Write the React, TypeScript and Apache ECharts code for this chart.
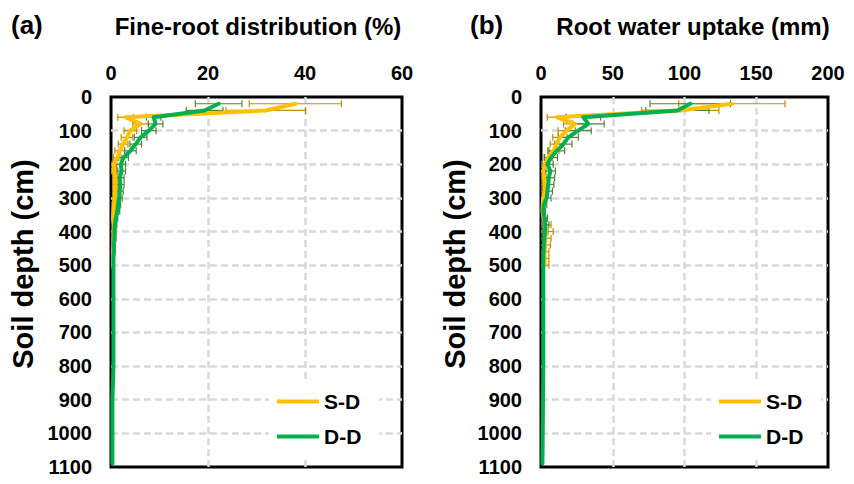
import React, { useEffect, useRef } from "react";
import * as echarts from "echarts";

// Depths (cm)
const depthsSD = [20, 40, 60, 80, 100, 120, 140, 160, 180, 200, 220, 240, 260, 280, 300, 320, 340, 360, 380, 400, 420, 440, 460, 480, 500];
const depthsDD = [20, 40, 60, 80, 100, 120, 140, 160, 180, 200, 220, 240, 260, 280, 300, 320, 340, 360, 380, 400, 420, 440, 460, 480, 500, 600, 700, 800, 900, 1000, 1090];

// (a) Fine-root distribution (%)
const rootSD = [38.0, 31.9, 3.0, 6.1, 4.0, 3.3, 2.5, 1.8, 1.3, 0.6, 0.6, 0.9, 0.9, 0.9, 0.8, 0.6, 0.5, 0.4, 0.6, 0.6, 0.5, 0.5, 0.4, 0.4, 0.4];
const rootSDErr = [9.5, 8.2, 1.6, 1.6, 1.3, 1.2, 1.0, 1.0, 0.8, 0.6, 0.5, 0.5, 0.5, 0.5, 0.4, 0.4, 0.3, 0.3, 0.4, 0.4, 0.3, 0.3, 0.3, 0.3, 0.3];
const rootDD = [22.2, 19.3, 8.8, 9.2, 7.8, 6.1, 5.1, 4.0, 2.6, 2.0, 2.2, 1.8, 1.9, 1.8, 1.7, 1.5, 1.3, 1.0, 0.8, 0.7, 0.7, 0.6, 0.6, 0.5, 0.5, 0.5, 0.5, 0.5, 0.3, 0.3, 0.3];
const rootDDErr = [4.8, 3.8, 1.5, 1.5, 1.5, 1.3, 1.2, 1.2, 1.0, 1.0, 0.8, 0.9, 0.8, 0.7, 0.6, 0.5, 0.5, 0.4, 0.4, 0.3, 0.3, 0.3, 0.2, 0.2, 0.2];

// (b) Root water uptake (mm)
const uptakeSD = [133, 97, 10.9, 23.7, 17.9, 13.2, 10.9, 8.6, 5.1, 2.8, 1.5, 2.0, 2.5, 2.5, 1.5, 1.2, 1.0, 2.0, 3.0, 3.5, 3.0, 3.0, 2.5, 2.5, 2.5];
const uptakeSDErr = [37, 27, 6.5, 8, 6, 5, 4.5, 4, 3, 2.5, 2, 2, 2.5, 2.5, 2, 1.5, 1.5, 2.5, 4, 5, 4, 3.5, 3, 3, 3];
const uptakeDD = [104, 95, 29.5, 33, 26, 19, 15.6, 11, 7, 4.5, 6.5, 5.5, 5.0, 4.5, 4.0, 2.0, 1.5, 2.5, 3.0, 2.8, 2.3, 2.0, 1.8, 1.6, 1.6, 1.6, 1.6, 1.6, 1.4, 1.2, 1.0];
const uptakeDDErr = [28, 22, 12, 11, 9, 7, 6, 5.5, 4.5, 4, 3.5, 4, 4, 3.5, 3, 2, 1.5, 2, 2.5, 2, 1.5, 1, 1, 0.8, 0.8];

const seriesNames = ["S-D", "D-D"];
const panelLabels = ["(a)", "(b)"];
const panelTitles = ["Fine-root distribution (%)", "Root water uptake (mm)"];
const yName = "Soil depth (cm)";

const FONT = 'Arial, "Liberation Sans", Helvetica, sans-serif';
const YELLOW = "#FFC000";
const GREEN = "#00B050";
const YELLOW_ERR = "#BF9000";
const GREEN_ERR = "#548235";

function errRender(color: string) {
  return (params: any, api: any) => {
    const v = api.value(0);
    const d = api.value(1);
    const e = api.value(2);
    if (!e) return { type: "group", children: [] };
    const lo = Math.max(0, v - e);
    const pL = api.coord([lo, d]);
    const pR = api.coord([v + e, d]);
    const h = 3.5;
    const st = { stroke: color, lineWidth: 1.2 };
    const children: any[] = [
      { type: "line", shape: { x1: pL[0], y1: pL[1], x2: pR[0], y2: pR[1] }, style: st },
      { type: "line", shape: { x1: pR[0], y1: pR[1] - h, x2: pR[0], y2: pR[1] + h }, style: st },
    ];
    if (v - e >= 0) {
      children.push({ type: "line", shape: { x1: pL[0], y1: pL[1] - h, x2: pL[0], y2: pL[1] + h }, style: st });
    }
    return { type: "group", children };
  };
}

function zip(vals: number[], depths: number[]) {
  return vals.map((v, i) => [v, depths[i]]);
}
function zipErr(vals: number[], errs: number[], depths: number[]) {
  return errs.map((e, i) => [vals[i], depths[i], e]);
}

export default function App() {
  const ref = useRef<HTMLDivElement>(null);
  useEffect(() => {
    document.body.style.margin = "0";
    if (!ref.current) return;
    const chart = echarts.init(ref.current, undefined, { renderer: "svg" });

    const splitLine = {
      show: true, showMinLine: false, showMaxLine: false,
      lineStyle: { color: "#D9D9D9", type: [7, 4], width: 2.5 },
    };
    const axisLabel = {
      color: "#000", fontSize: 20, fontWeight: "bold", fontFamily: FONT,
      formatter: (v: number) => String(v),
    };
    const mkX = (gi: number, max: number, interval: number) => ({
      gridIndex: gi, type: "value", position: "top", min: 0, max, interval,
      axisLine: { show: false }, axisTick: { show: false },
      axisLabel: { ...axisLabel, margin: 14 }, splitLine,
    });
    const mkY = (gi: number) => ({
      gridIndex: gi, type: "value", inverse: true, min: 0, max: 1100, interval: 100,
      axisLine: { show: false }, axisTick: { show: false },
      axisLabel: { ...axisLabel, margin: 19 }, splitLine,
    });
    const gridBase = { top: 97, height: 370, show: true, borderColor: "#000", borderWidth: 3, backgroundColor: "transparent" };
    const legendBase = {
      orient: "vertical", data: seriesNames, icon: "rect", itemWidth: 42, itemHeight: 4, itemGap: 14,
      backgroundColor: "#fff", padding: [10, 18, 10, 8],
      textStyle: { color: "#000", fontSize: 21, fontWeight: "bold", fontFamily: FONT },
      selectedMode: false,
    };
    const lineSeries = (name: string, color: string, data: number[][], gi: number) => ({
      name, type: "line", xAxisIndex: gi, yAxisIndex: gi, data, showSymbol: false, symbol: "none",
      lineStyle: { color, width: 4, join: "round", cap: "round" }, itemStyle: { color }, z: 3,
    });
    const errSeries = (name: string, color: string, data: number[][], gi: number) => ({
      name, type: "custom", xAxisIndex: gi, yAxisIndex: gi, data, renderItem: errRender(color),
      encode: { x: 0, y: 1 }, clip: true, z: 2, silent: true,
    });
    const txt = (text: string, x: number, y: number, size: number, align = "center", rotation = 0) => ({
      type: "text", x, y, rotation,
      style: { text, fill: "#000", font: `bold ${size}px ${FONT}`, textAlign: align, textVerticalAlign: "middle" },
    });

    chart.setOption({
      animation: false,
      backgroundColor: "#fff",
      grid: [
        { ...gridBase, left: 111, width: 291 },
        { ...gridBase, left: 541, width: 287 },
      ],
      xAxis: [mkX(0, 60, 20), mkX(1, 200, 50)],
      yAxis: [mkY(0), mkY(1)],
      legend: [
        { ...legendBase, left: 269, top: 381 },
        { ...legendBase, left: 711, top: 381 },
      ],
      graphic: [
        txt(panelLabels[0], 11, 25, 26, "left"),
        txt(panelTitles[0], 258, 26, 24),
        txt(yName, 22.5, 264, 29, "center", Math.PI / 2),
        txt(panelLabels[1], 470, 25, 26, "left"),
        txt(panelTitles[1], 693, 26, 24),
        txt(yName, 455, 264, 29, "center", Math.PI / 2),
      ],
      series: [
        errSeries("errSD-a", YELLOW_ERR, zipErr(rootSD, rootSDErr, depthsSD), 0),
        errSeries("errDD-a", GREEN_ERR, zipErr(rootDD, rootDDErr, depthsDD), 0),
        lineSeries(seriesNames[0], YELLOW, zip(rootSD, depthsSD), 0),
        lineSeries(seriesNames[1], GREEN, zip(rootDD, depthsDD), 0),
        errSeries("errSD-b", YELLOW_ERR, zipErr(uptakeSD, uptakeSDErr, depthsSD), 1),
        errSeries("errDD-b", GREEN_ERR, zipErr(uptakeDD, uptakeDDErr, depthsDD), 1),
        lineSeries(seriesNames[0], YELLOW, zip(uptakeSD, depthsSD), 1),
        lineSeries(seriesNames[1], GREEN, zip(uptakeDD, depthsDD), 1),
      ],
    });
    return () => chart.dispose();
  }, []);
  return <div ref={ref} style={{ width: 854, height: 484 }} />;
}
